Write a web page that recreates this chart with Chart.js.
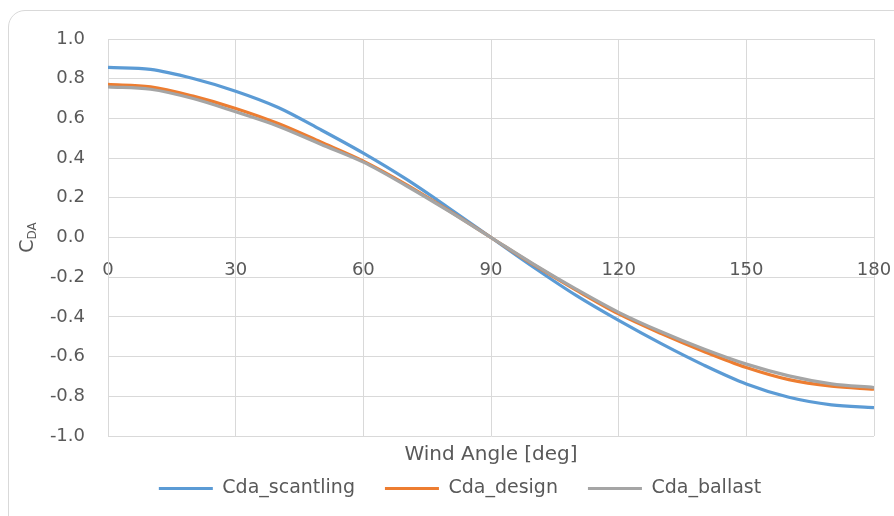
<!DOCTYPE html>
<html>
<head>
<meta charset="utf-8">
<title>Cda vs wind angle</title>
<script src="https://cdn.jsdelivr.net/npm/chart.js@4.4.1/dist/chart.umd.min.js"></script>
<style>
  html, body { margin: 0; padding: 0; background: #fff; overflow: hidden; }
  #wrap { position: relative; width: 894px; height: 516px; }
  /* rounded chart frame, runs off the right and bottom edge */
  #frame {
    position: absolute; left: 8px; top: 10px;
    width: 1000px; height: 600px;
    border: 1.5px solid #d9d9d9; border-radius: 17px;
  }
  canvas { position: absolute; left: 0; top: 0; }
</style>
</head>
<body>
<div id="wrap">
  <div id="frame"></div>
  <canvas id="cda-chart" width="894" height="516"></canvas>
</div>
<script>
// wind angle in degrees
const angles = [0, 10, 20, 30, 40, 50, 60, 70, 80, 90, 100, 110, 120, 130, 140, 150, 160, 170, 180];

// drag coefficient for each loading condition
const cdaScantling = [0.857, 0.847, 0.801, 0.737, 0.655, 0.543, 0.425, 0.295, 0.150, 0.000,
  -0.150, -0.292, -0.418, -0.535, -0.643, -0.738, -0.805, -0.843, -0.857];
const cdaDesign = [0.771, 0.759, 0.712, 0.650, 0.574, 0.481, 0.385, 0.268, 0.137, 0.000,
  -0.137, -0.265, -0.385, -0.484, -0.574, -0.655, -0.716, -0.749, -0.764];
const cdaBallast = [0.759, 0.747, 0.700, 0.633, 0.561, 0.470, 0.380, 0.262, 0.134, 0.000,
  -0.134, -0.260, -0.377, -0.475, -0.562, -0.638, -0.697, -0.737, -0.756];

const seriesNames = ["Cda_scantling", "Cda_design", "Cda_ballast"];
const seriesColors = ["#5b9bd5", "#ed7d31", "#a5a5a5"];

const textColor = "#595959";
const gridColor = "#d9d9d9";
const fontFamily = "'DejaVu Sans', sans-serif";

function toPoints(values) {
  return angles.map((a, i) => ({ x: a, y: values[i] }));
}

// y axis title with the "DA" subscript, written sideways
const yTitlePlugin = {
  id: "yTitle",
  afterDraw(chart) {
    const ctx = chart.ctx;
    const cy = (chart.chartArea.top + chart.chartArea.bottom) / 2;
    ctx.save();
    ctx.translate(33, cy);
    ctx.rotate(-Math.PI / 2);
    ctx.fillStyle = textColor;
    ctx.textBaseline = "alphabetic";
    ctx.textAlign = "left";
    ctx.font = "19px " + fontFamily;
    const wC = ctx.measureText("C").width;
    ctx.font = "12px " + fontFamily;
    const wSub = ctx.measureText("DA").width;
    const x0 = -(wC + wSub) / 2;
    ctx.font = "19px " + fontFamily;
    ctx.fillText("C", x0, 0);
    ctx.font = "12px " + fontFamily;
    ctx.fillText("DA", x0 + wC, 3);
    ctx.restore();
  }
};

const canvas = document.getElementById("cda-chart");

const datasets = [cdaScantling, cdaDesign, cdaBallast].map((vals, i) => ({
  label: seriesNames[i],
  data: toPoints(vals),
  borderColor: seriesColors[i],
  backgroundColor: seriesColors[i],
  borderWidth: 3.2,
  pointRadius: 0,
  cubicInterpolationMode: "monotone",
  order: 2 - i // ballast sits on top, scantling underneath
}));

new Chart(canvas, {
  type: "line",
  data: { datasets: datasets },
  options: {
    responsive: false,
    animation: false,
    layout: {
      padding: { top: 39, right: 20, bottom: 8, left: 46 }
    },
    plugins: {
      tooltip: { enabled: false },
      legend: {
        position: "bottom",
        labels: {
          usePointStyle: true,
          pointStyle: "line",
          pointStyleWidth: 54,
          boxHeight: 19,
          padding: 30,
          color: textColor,
          font: { family: fontFamily, size: 19 },
          sort: (a, b) => a.datasetIndex - b.datasetIndex
        }
      }
    },
    scales: {
      x: {
        type: "linear",
        min: 0,
        max: 180,
        position: { y: 0 },
        ticks: {
          stepSize: 30,
          color: textColor,
          font: { family: fontFamily, size: 18 },
          padding: 22,
          maxRotation: 0
        },
        grid: { color: gridColor, lineWidth: 1, drawTicks: false },
        border: { color: gridColor, width: 1 },
        // the "180" label may hang past the plot edge
        afterFit: scale => { scale.paddingRight = 0; }
      },
      // bottom axis only carries the title
      xTitle: {
        type: "linear",
        min: 0,
        max: 180,
        position: "bottom",
        ticks: { display: false },
        grid: { display: false, drawTicks: false },
        border: { display: false },
        title: {
          display: true,
          text: "Wind Angle [deg]",
          color: textColor,
          font: { family: fontFamily, size: 20 },
          padding: { top: 7, bottom: -18 }
        }
      },
      y: {
        min: -1,
        max: 1,
        ticks: {
          stepSize: 0.2,
          color: textColor,
          font: { family: fontFamily, size: 18 },
          padding: 23,
          callback: v => (Math.abs(v) < 1e-9 ? 0 : v).toFixed(1)
        },
        grid: { color: gridColor, lineWidth: 1, drawTicks: false },
        border: { color: gridColor, width: 1 },
        afterFit: scale => { scale.width = 62; }
      }
    }
  },
  plugins: [yTitlePlugin]
});
</script>
</body>
</html>
